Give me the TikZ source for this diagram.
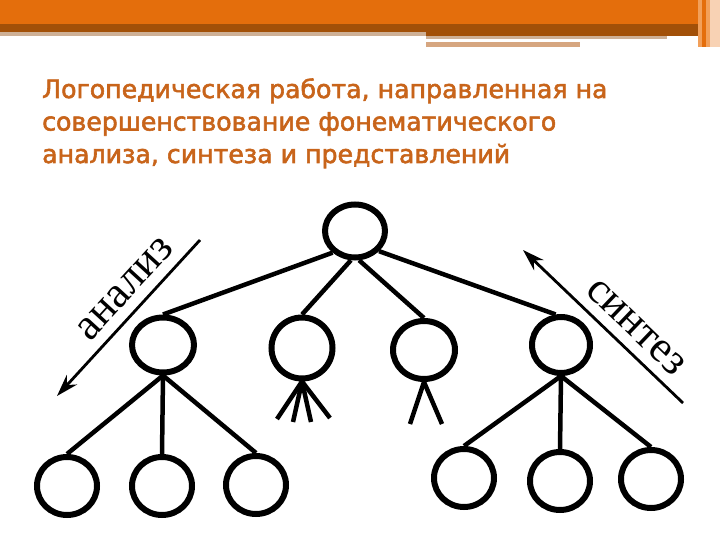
\documentclass[tikz,border=0pt]{standalone}
\usepackage{fontspec}
\setmainfont{Liberation Serif}
\newfontfamily\titlefont[FakeBold=2.2]{DejaVu Sans}
\usetikzlibrary{arrows.meta,shapes.geometric}
\definecolor{barorange}{RGB}{228,110,12}
\definecolor{barbrown}{RGB}{162,80,8}
\definecolor{tanline}{RGB}{206,176,150}
\definecolor{tanline2}{RGB}{214,166,128}
\definecolor{stripelight}{RGB}{242,160,90}
\definecolor{stripepeach}{RGB}{248,210,180}
\definecolor{titleorange}{RGB}{200,100,26}
\begin{document}
\begin{tikzpicture}[x=1pt,y=-1pt,
  nd/.style={ellipse, draw, line width=6pt, inner sep=0pt},
  edge/.style={line width=4.5pt},
  dirarrow/.style={line width=2.8pt, {Stealth[length=22pt,width=14pt]}-},
  dirlabel/.style={font=\fontsize{44}{44}\selectfont, sloped, inner sep=0pt, above=10pt},
  titletext/.style={anchor=base west, inner sep=0pt, text=titleorange, font=\titlefont\fontsize{25.2}{30}\selectfont}]
\useasboundingbox (0,0) rectangle (720,540);
\fill[white] (0,0) rectangle (720,540);
% top decoration
\fill[barorange] (0,0) rectangle (698,24);
\fill[barbrown] (0,24) rectangle (698,32);
\fill[barbrown] (426,32) rectangle (698,36);
\fill[tanline] (0,32) rectangle (426,36);
\fill[tanline] (426,36) rectangle (667,39);
\fill[tanline2] (426,42) rectangle (580,47);
\fill[stripelight] (698,0) rectangle (702,47);
\fill[barorange] (702,0) rectangle (706,47);
\fill[stripelight] (706,0) rectangle (710,47);
\fill[stripepeach] (710,0) rectangle (720,47);
% title
\node[titletext] (t1) at (42,98) {Логопедическая работа, направленная на};
\node[titletext] (t2) at (42,130.5) {совершенствование фонематического};
\node[titletext] (t3) at (42,163) {анализа, синтеза и представлений};
% tree nodes
\node[nd, minimum width=60pt, minimum height=53pt] (root) at (355,231) {};
\node[nd, minimum width=62pt, minimum height=55pt] (m1) at (163,345) {};
\node[nd, minimum width=61pt, minimum height=61pt] (m2) at (302,348) {};
\node[nd, minimum width=62pt, minimum height=58pt] (m3) at (424,350) {};
\node[nd, minimum width=58pt, minimum height=56pt] (m4) at (561,345) {};
\node[nd, minimum width=60pt, minimum height=58pt] (b1) at (67,486) {};
\node[nd, minimum width=60pt, minimum height=58pt] (b2) at (162,486) {};
\node[nd, minimum width=60pt, minimum height=58pt] (b3) at (256,485) {};
\node[nd, minimum width=60pt, minimum height=58pt] (b4) at (464,478) {};
\node[nd, minimum width=60pt, minimum height=58pt] (b5) at (560,481) {};
\node[nd, minimum width=60pt, minimum height=58pt] (b6) at (651,479) {};
% edges
\draw[edge] (root.224) -- (m1.north);
\draw[edge] (root.262) -- (m2.north);
\draw[edge] (root.278) -- (m3.north);
\draw[edge] (root.320) -- (m4.100);
\draw[edge] (m1.south) -- (b1.north);
\draw[edge] (m1.south) -- (b2.north);
\draw[edge] (m1.south) -- (b3.north);
\draw[edge] (m4.south) -- (b4.north);
\draw[edge] (m4.south) -- (b5.north);
\draw[edge] (m4.south) -- (b6.north);
% fan and fork
\coordinate (f1) at (277,419);
\coordinate (f2) at (293,422);
\coordinate (f3) at (311,422);
\coordinate (f4) at (330,418);
\draw[edge] (m2.south) -- (f1);
\draw[edge] (m2.south) -- (f2);
\draw[edge] (m2.south) -- (f3);
\draw[edge] (m2.south) -- (f4);
\coordinate (k1) at (410,424);
\coordinate (k2) at (442,424);
\draw[edge] (m3.south) -- (k1);
\draw[edge] (m3.south) -- (k2);
% direction arrows
\coordinate (a1) at (57,396);
\coordinate (a2) at (200,240);
\draw[dirarrow] (a1) -- (a2) node[dirlabel, pos=0.59] (lab1) {анализ};
\coordinate (s1) at (523,250);
\coordinate (s2) at (683,403);
\draw[dirarrow] (s1) -- (s2) node[dirlabel, pos=0.61] (lab2) {синтез};
\end{tikzpicture}
\end{document}
